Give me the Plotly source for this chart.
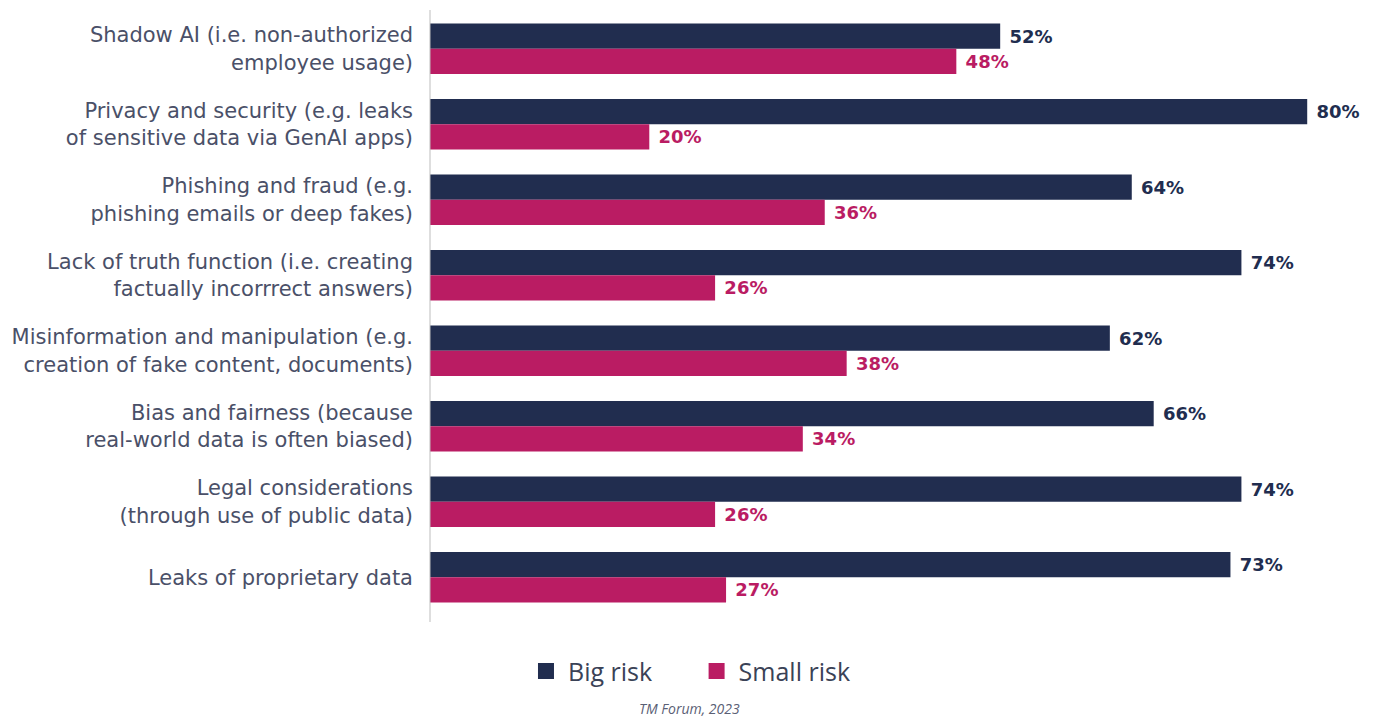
import plotly.graph_objects as go

categories = [
    "Shadow AI (i.e. non-authorized<br>employee usage)",
    "Privacy and security (e.g. leaks<br>of sensitive data via GenAI apps)",
    "Phishing and fraud (e.g.<br>phishing emails or deep fakes)",
    "Lack of truth function (i.e. creating<br>factually incorrrect answers)",
    "Misinformation and manipulation (e.g.<br>creation of fake content, documents)",
    "Bias and fairness (because<br>real-world data is often biased)",
    "Legal considerations<br>(through use of public data)",
    "Leaks of proprietary data",
]
big_risk = [52, 80, 64, 74, 62, 66, 74, 73]
small_risk = [48, 20, 36, 26, 38, 34, 26, 27]

DARK = "#212d4f"
PINK = "#ba1c63"
FONT = "Open Sans"
TICKFONT = "DejaVu Sans"
LX = 0.2757

fig = go.Figure()
fig.add_trace(go.Bar(
    y=categories, x=big_risk, name="Big risk", orientation="h",
    marker=dict(color=DARK, line=dict(width=0)),
    text=[f" {v}%" for v in big_risk], textposition="outside",
    textfont=dict(color=DARK, size=18, family=TICKFONT, weight="bold"),
    cliponaxis=False, showlegend=False,
))
fig.add_trace(go.Bar(
    y=categories, x=small_risk, name="Small risk", orientation="h",
    marker=dict(color=PINK, line=dict(width=0)),
    text=[f" {v}%" for v in small_risk], textposition="outside",
    textfont=dict(color=PINK, size=18, family=TICKFONT, weight="bold"),
    cliponaxis=False, showlegend=False,
))
# legend entries
for nm, col in [("Big risk\u2003\u2002", DARK), ("Small risk", PINK)]:
    fig.add_trace(go.Scatter(
        x=[None], y=[None], mode="markers", name=nm,
        marker=dict(symbol="square", size=18, color=col),
    ))

fig.update_layout(
    width=1369, height=710,
    margin=dict(l=422, r=4, t=3, b=103, autoexpand=False),
    barmode="group", bargap=0.33, bargroupgap=0,
    plot_bgcolor="white", paper_bgcolor="white",
    font=dict(family=FONT, color="#4a5068"),
    showlegend=True,
    legend=dict(orientation="h", x=LX, xanchor="center", y=-0.055, yanchor="top",
                font=dict(size=25, color="#3a4256", family=FONT),
                traceorder="normal", itemwidth=34),
    annotations=[dict(text="<i>TM Forum, 2023</i>", xref="paper", yref="paper",
                      x=LX, y=-0.135, xanchor="center", yanchor="top", showarrow=False,
                      font=dict(size=14, color="#5a6075", family=FONT))],
    shapes=[dict(type="line", xref="paper", yref="paper", x0=0, x1=0,
                 y0=-7 / 604, y1=1.0 + 1 / 604, line=dict(color="#bdbdbd", width=1))],
)
fig.update_xaxes(range=[0, 86], visible=False, fixedrange=True)
fig.update_yaxes(autorange="reversed", showline=False,
                 ticks="", ticklabelstandoff=16,
                 tickfont=dict(size=21, color="#4a5068", family=TICKFONT), showgrid=False)

fig.write_html("out.html")
